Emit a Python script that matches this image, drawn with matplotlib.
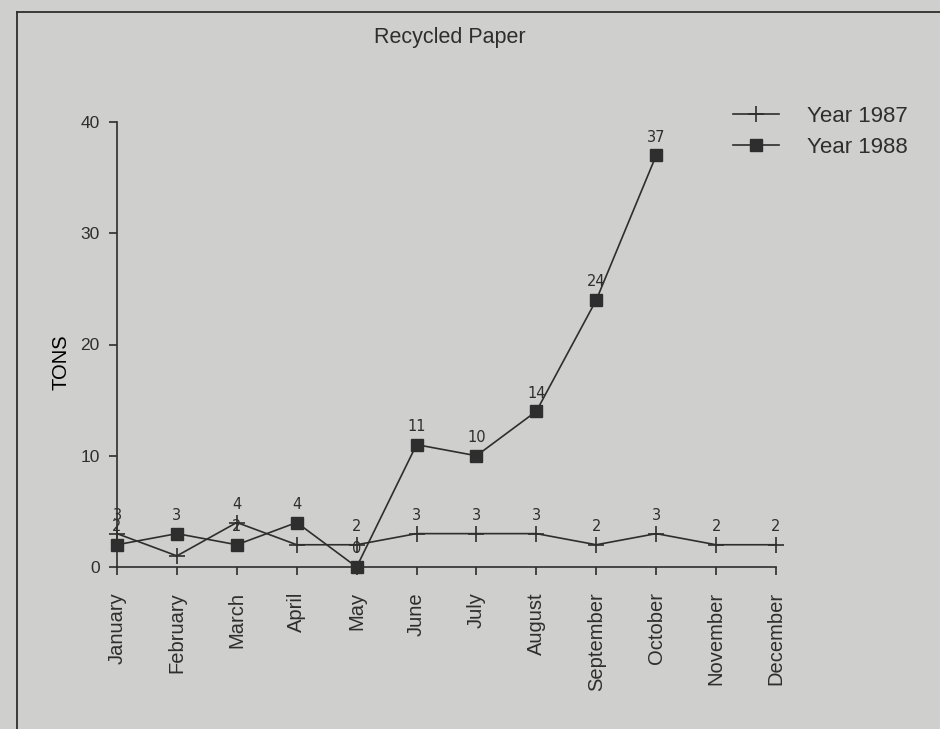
import matplotlib
matplotlib.use("Agg")
from matplotlib import pyplot as plt
from matplotlib.lines import Line2D

months = ["January", "February", "March", "April", "May", "June", "July",
          "August", "September", "October", "November", "December"]
tons_1987 = [3, 1, 4, 2, 2, 3, 3, 3, 2, 3, 2, 2]
tons_1988 = [2, 3, 2, 4, 0, 11, 10, 14, 24, 37]
# value labels that are printed next to the 1987 points
labelled_1987 = [0, 2, 4, 5, 6, 7, 8, 9, 10, 11]

PAPER = "#cfcfcd"
INK = "#2e2e2e"

plt.rcParams["font.family"] = ["Liberation Sans", "DejaVu Sans"]
plt.rcParams["text.color"] = INK
plt.rcParams["axes.edgecolor"] = INK
plt.rcParams["xtick.color"] = INK
plt.rcParams["ytick.color"] = INK

fig = plt.figure(figsize=(9.4, 7.29), dpi=100, facecolor=PAPER)
ax = fig.add_axes([117 / 940, 1 - 567 / 729, (776 - 117) / 940, (567 - 122) / 729])
ax.set_facecolor(PAPER)

x87 = list(range(len(tons_1987)))
x88 = list(range(len(tons_1988)))
ax.plot(x87, tons_1987, color=INK, lw=1.2, marker="+", ms=11, mew=1.2,
        clip_on=False, label="Year 1987")
ax.plot(x88, tons_1988, color=INK, lw=1.2, marker="s", ms=8.5,
        mfc=INK, mec=INK, clip_on=False, label="Year 1988")

for i in labelled_1987:
    ax.annotate(str(tons_1987[i]), (i, tons_1987[i]), xytext=(0, 13),
                textcoords="offset points", ha="center", va="center",
                fontsize=10.5, family="DejaVu Sans")
for i, v in enumerate(tons_1988):
    ax.annotate(str(v), (i, v), xytext=(0, 13), textcoords="offset points",
                ha="center", va="center", fontsize=10.5, family="DejaVu Sans")

ax.set_xlim(0, 11)
ax.set_ylim(0, 40)
ax.set_xticks(x87)
ax.set_xticklabels(months, rotation=90, fontsize=14.5)
ax.set_yticks([0, 10, 20, 30, 40])
ax.tick_params(axis="x", direction="out", length=6, width=1.2, pad=12)
ax.tick_params(axis="y", direction="out", length=5.5, width=1.2, pad=7,
               labelsize=12.5)
for side in ("top", "right"):
    ax.spines[side].set_visible(False)
for side in ("left", "bottom"):
    ax.spines[side].set_linewidth(1.2)

ax.set_ylabel("TONS", fontsize=14.5)
ax.yaxis.set_label_coords(-0.071, 0.46)
fig.text(450 / 940, 1 - 37 / 729, "Recycled Paper", ha="center", va="center",
         fontsize=15.5)

fig.legend(loc="upper left", bbox_to_anchor=(733 / 940, 1 - 106 / 729),
           frameon=False, fontsize=16, handlelength=2.05, handletextpad=1.3,
           labelspacing=0.45, borderpad=0, borderaxespad=0)

# page frame around the chart
fig.add_artist(Line2D([17 / 940, 1], [1 - 12 / 729, 1 - 12 / 729],
                      color=INK, lw=1.3, transform=fig.transFigure))
fig.add_artist(Line2D([17 / 940, 17 / 940], [0, 1 - 12 / 729],
                      color=INK, lw=1.3, transform=fig.transFigure))

fig.savefig("out.png", dpi=100, facecolor=PAPER)
